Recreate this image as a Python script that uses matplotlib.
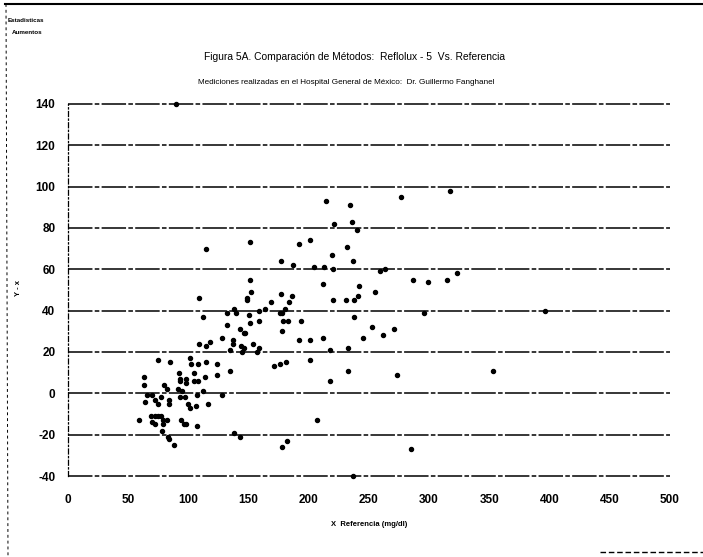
import matplotlib.pyplot as plt
from matplotlib.lines import Line2D

# glucosa: referencia (x) vs Reflolux-5 (y), mg/dl
ref_x = [90, 214, 234, 277, 317, 221, 236, 240, 115, 151, 192, 201, 232, 177, 219, 237,
         187, 204, 213, 220, 259, 263, 212, 242, 287, 299, 315, 323, 109, 151, 152, 149,
         149, 177, 186, 169, 184, 220, 231, 238, 241, 255, 138, 140, 132, 150, 159, 164,
         176, 178, 180, 112, 238, 296, 396, 132, 151, 159, 179, 183, 194, 143, 146, 147,
         178, 253, 271, 262, 245, 128, 137, 137, 109, 115, 118, 192, 201, 212, 154, 159,
         157, 144, 145, 146, 233, 218, 135, 201, 233, 218, 273, 353, 171, 176, 181, 207,
         285, 182, 178, 237, 75, 85, 101, 102, 108, 115, 124, 135, 92, 93, 93, 105,
         98, 98, 105, 108, 114, 124, 63, 63, 80, 82, 91, 93, 95, 97, 107, 112,
         128, 66, 70, 64, 72, 75, 77, 84, 84, 100, 101, 106, 116, 59, 69, 72,
         75, 77, 79, 70, 72, 79, 78, 82, 94, 96, 98, 107, 83, 84, 88, 138, 143]
reflolux_y = [140, 93, 91, 95, 98, 82, 83, 79, 70, 73, 72, 74, 71, 64, 67, 64,
              62, 61, 61, 60, 59, 60, 53, 52, 55, 54, 55, 58, 46, 55, 49, 46,
              45, 48, 47, 44, 44, 45, 45, 45, 47, 49, 41, 39, 39, 38, 40, 41,
              39, 39, 41, 37, 37, 39, 40, 33, 34, 35, 35, 35, 35, 31, 29, 29,
              30, 32, 31, 28, 27, 27, 26, 24, 24, 23, 25, 26, 26, 27, 24, 22,
              20, 23, 20, 22, 22, 21, 21, 16, 11, 6, 9, 11, 13, 14, 15, -13,
              -27, -23, -26, -40, 16, 15, 17, 14, 14, 15, 14, 11, 10, 7, 6, 10,
              7, 5, 6, 6, 8, 9, 8, 4, 4, 2, 2, -2, 1, -2, -1, 1,
              -1, -1, -1, -4, -3, -5, -2, -3, -5, -5, -7, -6, -5, -13, -11, -11,
              -11, -11, -13, -14, -15, -15, -18, -13, -13, -15, -15, -16, -21, -22, -25, -19, -21]

x_ticks = [0, 50, 100, 150, 200, 250, 300, 350, 400, 450, 500]
y_ticks = [-40, -20, 0, 20, 40, 60, 80, 100, 120, 140]

title = "Figura 5A. Comparación de Métodos:  Reflolux - 5  Vs. Referencia"
subtitle = "Mediciones realizadas en el Hospital General de México:  Dr. Guillermo Fanghanel"
x_label = "X  Referencia (mg/dl)"

narrow = ['Liberation Sans Narrow', 'Liberation Sans', 'DejaVu Sans']
plt.rcParams['font.family'] = narrow
plt.rcParams['axes.unicode_minus'] = False

fig = plt.figure(figsize=(7.03, 5.57), dpi=100)
ax = fig.add_axes([0.0967, 0.1454, 0.856, 0.668])

# lineas horizontales en cada marca de y
for yv in y_ticks:
    ax.axhline(yv, color='black', linewidth=1.1, linestyle=(0, (16, 1.5, 3, 1.5)), clip_on=False)

ax.plot(ref_x, reflolux_y, linestyle='none', marker='o', markersize=2.9,
        markerfacecolor='black', markeredgecolor='black', clip_on=False)

ax.set_xlim(0, 500)
ax.set_ylim(-40, 140)
ax.set_xticks(x_ticks)
ax.set_yticks(y_ticks)
ax.tick_params(length=0, labelsize=8.5)
ax.tick_params(axis='x', pad=13)
ax.tick_params(axis='y', pad=9)
for lab in ax.get_xticklabels() + ax.get_yticklabels():
    lab.set_fontweight('bold')

for s in ['top', 'right', 'bottom']:
    ax.spines[s].set_visible(False)
ax.spines['left'].set_linestyle((0, (4, 2, 1, 2)))
ax.spines['left'].set_linewidth(0.9)

fig.text(354 / 703, 1 - 57 / 557, title, ha='center', va='center', fontsize=7.4)
fig.text(346 / 703, 1 - 82 / 557, subtitle, ha='center', va='center', fontsize=5.9)
fig.text(369 / 703, 1 - 524 / 557, x_label, ha='center', va='center', fontsize=5.5,
         fontweight='bold')
fig.text(18 / 703, 1 - 288 / 557, "Y - x", ha='center', va='center', fontsize=5.5,
         rotation=90, fontweight='bold')

# notas de la esquina superior
fig.text(8 / 703, 1 - 20 / 557, "Estadisticas", fontsize=4.5, fontweight='bold', va='center')
fig.text(12 / 703, 1 - 33 / 557, "Aumentos", fontsize=4.5, fontweight='bold', va='center')

# marco de la hoja
fig.add_artist(Line2D([5 / 703, 1.0], [1 - 4 / 557, 1 - 4 / 557], color='black',
                      linewidth=1.5, transform=fig.transFigure))
fig.add_artist(Line2D([6 / 703, 8 / 703], [1 - 4 / 557, 0.0], color='black',
                      linewidth=0.7, linestyle=(0, (3, 3)), transform=fig.transFigure))
fig.add_artist(Line2D([600 / 703, 1.0], [1 - 552 / 557, 1 - 552 / 557], color='black',
                      linewidth=1.0, linestyle=(0, (4, 2)), transform=fig.transFigure))

fig.savefig("out.png", dpi=100)
